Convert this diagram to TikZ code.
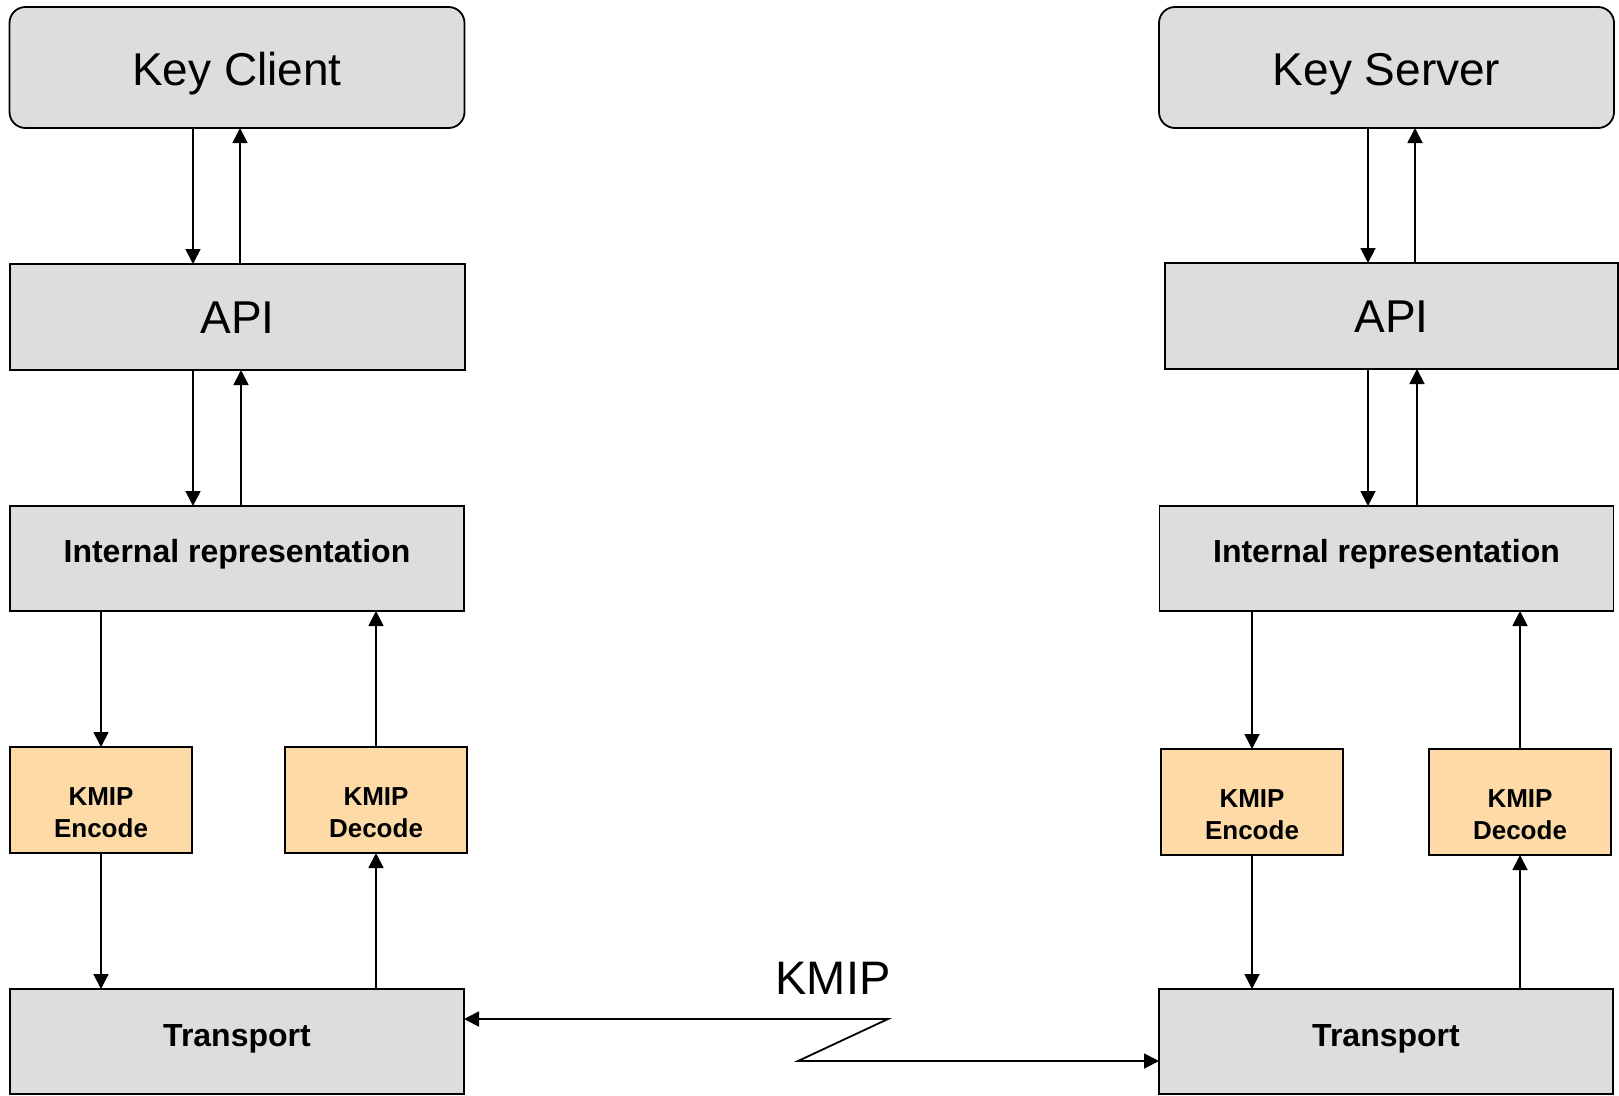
\documentclass[tikz,border=0pt]{standalone}
\usepackage{fontspec}
\setmainfont{Liberation Sans}
\usetikzlibrary{arrows.meta}
\definecolor{boxgray}{RGB}{221,221,221}
\definecolor{codecorange}{RGB}{253,218,166}
\begin{document}
\begin{tikzpicture}[x=1pt,y=-1pt,
  layer/.style={draw=black, line width=1.8pt, fill=boxgray, inner sep=0pt, outer sep=0pt},
  endpoint/.style={layer, rounded corners=16pt, minimum width=455pt, minimum height=121pt,
    font=\fontsize{46}{55}\selectfont, text height=35pt, text depth=0pt},
  apibox/.style={layer, minimum width=455pt, minimum height=106pt,
    font=\fontsize{46}{55}\selectfont, text height=33pt, text depth=0pt},
  widebox/.style={layer, minimum width=454pt, minimum height=105pt,
    font=\fontsize{32}{38}\selectfont\bfseries, text height=7pt, text depth=0pt},
  codec/.style={layer, fill=codecorange, minimum width=182pt, minimum height=106pt,
    align=center, font=\fontsize{26}{32}\selectfont\bfseries, text height=74pt, text depth=0pt},
  flow/.style={line width=1.8pt, -{Triangle[length=15pt,width=15pt]}},
  link/.style={line width=1.8pt, {Triangle[length=15pt,width=15pt]}-{Triangle[length=15pt,width=15pt]}}
]
\useasboundingbox (0,0) rectangle (1619,1095);

% client stack
\node[endpoint] (kc)  at (237,67.5)   {Key Client};
\node[apibox]   (api) at (237.5,317)  {API};
\node[widebox]  (ir)  at (237,558.5)  {Internal representation};
\node[codec]    (enc) at (101,800)    {KMIP\\Encode};
\node[codec]    (dec) at (376,800)    {KMIP\\Decode};
\node[widebox, text height=10pt] (tr) at (237,1041.5) {Transport};

% server stack
\node[endpoint] (ks)   at (1386.5,67.5) {Key Server};
\node[apibox, minimum width=453pt, text height=32pt] (api2) at (1391.5,316) {API};
\node[widebox]  (ir2)  at (1386.5,558.5) {Internal representation};
\node[codec]    (enc2) at (1252,802)    {KMIP\\Encode};
\node[codec]    (dec2) at (1520,802)    {KMIP\\Decode};
\node[widebox, text height=10pt] (tr2) at (1386,1041.5) {Transport};

% client flows
\draw[flow] (193,0 |- kc.south)  -- (193,0 |- api.north);
\draw[flow] (240,0 |- api.north) -- (240,0 |- kc.south);
\draw[flow] (193,0 |- api.south) -- (193,0 |- ir.north);
\draw[flow] (241,0 |- ir.north)  -- (241,0 |- api.south);
\draw[flow] (ir.south -| enc.north) -- (enc.north);
\draw[flow] (dec.north) -- (dec.north |- ir.south);
\draw[flow] (enc.south) -- (enc.south |- tr.north);
\draw[flow] (dec.south |- tr.north) -- (dec.south);

% server flows
\draw[flow] (1368,0 |- ks.south)   -- (1368,0 |- api2.north);
\draw[flow] (1415,0 |- api2.north) -- (1415,0 |- ks.south);
\draw[flow] (1368,0 |- api2.south) -- (1368,0 |- ir2.north);
\draw[flow] (1417,0 |- ir2.north)  -- (1417,0 |- api2.south);
\draw[flow] (ir2.south -| enc2.north) -- (enc2.north);
\draw[flow] (dec2.north) -- (dec2.north |- ir2.south);
\draw[flow] (enc2.south) -- (enc2.south |- tr2.north);
\draw[flow] (dec2.south |- tr2.north) -- (dec2.south);

% KMIP link between the two transports
\coordinate (zA) at (888,1019);
\coordinate (zB) at (798,1061);
\draw[link] (tr.east |- zA) -- (zA) -- (zB) -- (tr2.west |- zB);
\node[anchor=base, inner sep=0pt, font=\fontsize{47}{56}\selectfont] (kmip) at (833,994) {KMIP};
\end{tikzpicture}
\end{document}
